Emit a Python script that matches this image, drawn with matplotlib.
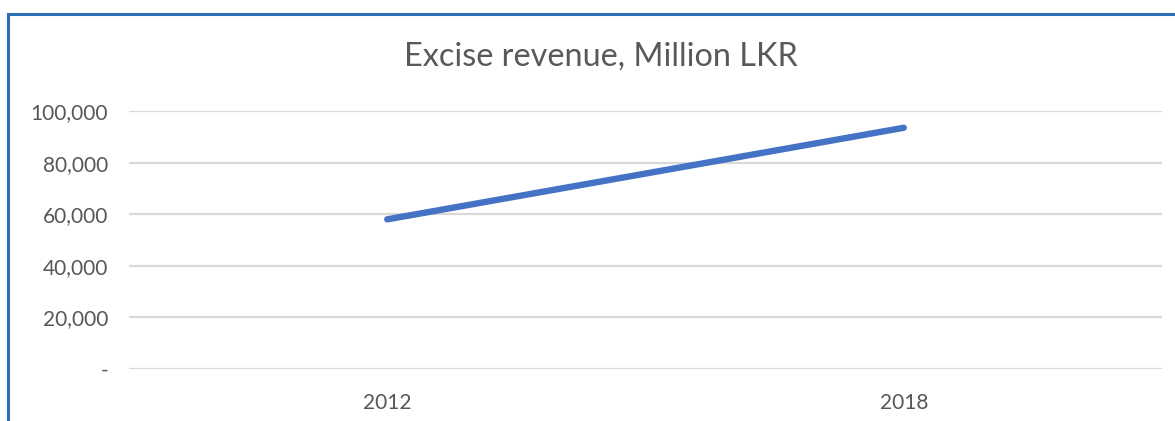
import matplotlib
matplotlib.use("Agg")
import matplotlib.pyplot as plt
from matplotlib.patches import Rectangle
from matplotlib.ticker import FuncFormatter

# Excise revenue in million LKR
years = ["2012", "2018"]
revenue = [58000, 93500]

title = "Excise revenue, Million LKR"
y_ticks = [0, 20000, 40000, 60000, 80000, 100000]

plt.rcParams["font.family"] = ["Lato", "DejaVu Sans"]

W, H = 1175, 421
fig = plt.figure(figsize=(W / 100, H / 100), dpi=100)
fig.patch.set_facecolor("white")

ax = fig.add_axes([129 / W, 1 - 369 / H, (1162 - 129) / W, (369 - 111) / H])

x = list(range(len(years)))
ax.plot(x, revenue, color="#4472C4", lw=4.6, solid_capstyle="round", zorder=3)

ax.set_xlim(-0.5, len(years) - 0.5)
ax.set_ylim(0, 100000)
ax.set_yticks(y_ticks)
ax.yaxis.set_major_formatter(FuncFormatter(lambda v, p: "-" if v == 0 else f"{int(v):,}"))
ax.set_xticks(x)
ax.set_xticklabels(years)

ax.grid(axis="y", color="#D9D9D9", lw=1.6, zorder=0)
for s in ax.spines.values():
    s.set_visible(False)
ax.tick_params(axis="both", length=0, labelsize=15, labelcolor="#575757")
ax.tick_params(axis="y", pad=15)
ax.tick_params(axis="x", pad=17)

fig.text(601 / W, 1 - 57 / H, title, ha="center", va="center",
         fontsize=23.3, color="#595959")

# chart frame
fig.add_artist(Rectangle((8 / W, -0.05), 1.1, 1 - 14 / H + 0.05,
                         transform=fig.transFigure, fill=False,
                         edgecolor="#2E6DB4", lw=2.2, zorder=10))

fig.savefig("out.png", dpi=100, facecolor="white")
